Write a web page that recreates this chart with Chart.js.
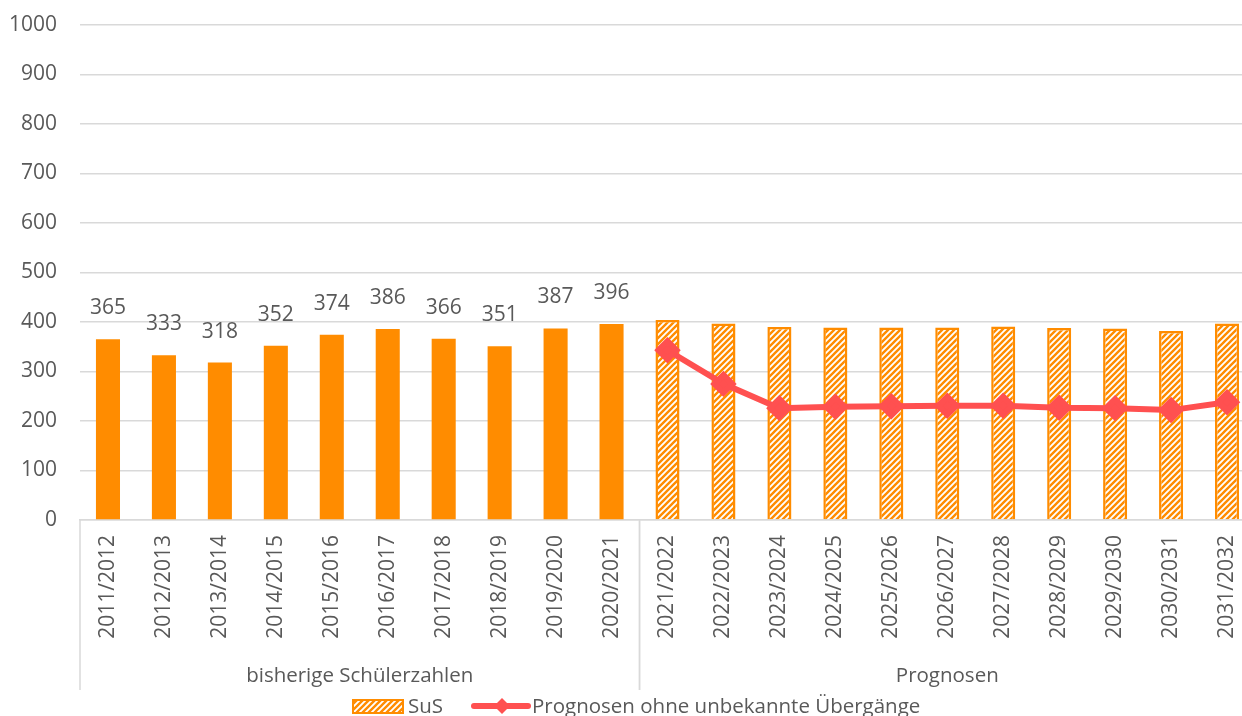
<!DOCTYPE html>
<html>
<head>
<meta charset="utf-8">
<script src="https://cdn.jsdelivr.net/npm/chart.js@4.4.1/dist/chart.umd.min.js"></script>
<style>
  html, body { margin: 0; background: #fff; overflow: hidden; width: 1242px; height: 716px; font-family: "Open Sans", sans-serif; }
  #wrap { position: relative; width: 1242px; height: 716px; overflow: hidden; }
  #chart { position: absolute; left: 0; top: 0; }
  .leg { position: absolute; color: #595959; font-size: 20.5px; line-height: 20px; white-space: nowrap; }
</style>
</head>
<body>
<div id="wrap">
  <canvas id="chart" width="1270" height="716"></canvas>
  <canvas id="swatch" width="52" height="15" style="position:absolute;left:352px;top:699px"></canvas>
  <div class="leg" style="left:408px;top:695px">SuS</div>
  <svg width="62" height="22" style="position:absolute;left:470px;top:695px"><line x1="4" y1="11" x2="58" y2="11" stroke="#FF5050" stroke-width="6" stroke-linecap="round"/><polygon points="32,3 40,11 32,19 24,11" fill="#FF5050"/></svg>
  <div class="leg" style="left:532px;top:695px">Prognosen ohne unbekannte Übergänge</div>
</div>
<script>
const years = [
  "2011/2012", "2012/2013", "2013/2014", "2014/2015", "2015/2016", "2016/2017",
  "2017/2018", "2018/2019", "2019/2020", "2020/2021", "2021/2022", "2022/2023",
  "2023/2024", "2024/2025", "2025/2026", "2026/2027", "2027/2028", "2028/2029",
  "2029/2030", "2030/2031", "2031/2032"
];
const groups = ["bisherige Schülerzahlen", "Prognosen"];
const groupSizes = [10, 11];

const sus = [365, 333, 318, 352, 374, 386, 366, 351, 387, 396,
             404, 397, 390, 389, 389, 389, 391, 388, 387, 382, 397];
const ohneUebergaenge = [null, null, null, null, null, null, null, null, null, null,
             343, 275, 226, 229, 230, 231, 231, 227, 226, 222, 238];

const ORANGE = "#FF8C00";
const RED = "#FF5050";
const TEXT = "#595959";
const GRID = "#d9d9d9";

function hatchTile() {
  const c = document.createElement("canvas");
  c.width = 6; c.height = 6;
  const g = c.getContext("2d");
  g.fillStyle = "#fff";
  g.fillRect(0, 0, 6, 6);
  g.strokeStyle = ORANGE;
  g.lineWidth = 2.4;
  g.beginPath();
  g.moveTo(-1, 7); g.lineTo(7, -1);
  g.moveTo(-4, 4); g.lineTo(4, -4);
  g.moveTo(2, 10); g.lineTo(10, 2);
  g.stroke();
  return c;
}
const hatch = document.getElementById("chart").getContext("2d").createPattern(hatchTile(), "repeat");

// legend swatch
const sw = document.getElementById("swatch").getContext("2d");
sw.fillStyle = sw.createPattern(hatchTile(), "repeat");
sw.fillRect(0, 0, 52, 15);
sw.strokeStyle = ORANGE;
sw.lineWidth = 2;
sw.strokeRect(1, 1, 50, 13);

const histCount = groupSizes[0];

const barLabels = {
  id: "barLabels",
  afterDatasetsDraw(chart) {
    const ctx = chart.ctx;
    const meta = chart.getDatasetMeta(0);
    ctx.save();
    ctx.fillStyle = TEXT;
    ctx.font = "21px 'Open Sans'";
    ctx.textAlign = "center";
    ctx.textBaseline = "middle";
    meta.data.forEach((bar, i) => {
      if (i < histCount) ctx.fillText(sus[i], bar.x, bar.y - 31);
    });
    ctx.restore();
  }
};

const groupAxis = {
  id: "groupAxis",
  afterDraw(chart) {
    const ctx = chart.ctx;
    const x = chart.scales.x;
    const bottom = chart.chartArea.bottom;
    const half = (x.getPixelForValue(1) - x.getPixelForValue(0)) / 2;
    ctx.save();
    ctx.strokeStyle = GRID;
    ctx.lineWidth = 1.5;
    ctx.fillStyle = TEXT;
    ctx.font = "20.5px 'Open Sans'";
    ctx.textAlign = "center";
    ctx.textBaseline = "middle";
    let start = 0;
    groups.forEach((name, g) => {
      const end = start + groupSizes[g] - 1;
      const left = x.getPixelForValue(start) - half;
      const right = x.getPixelForValue(end) + half;
      ctx.beginPath();
      ctx.moveTo(left, bottom); ctx.lineTo(left, 690);
      ctx.moveTo(right, bottom); ctx.lineTo(right, 690);
      ctx.stroke();
      ctx.fillText(name, (left + right) / 2, 676);
      start = end + 1;
    });
    ctx.restore();
  }
};

new Chart(document.getElementById("chart"), {
  data: {
    labels: years,
    datasets: [
      {
        type: "bar",
        label: "SuS",
        data: sus,
        backgroundColor: sus.map((v, i) => i < histCount ? ORANGE : hatch),
        borderColor: ORANGE,
        borderWidth: sus.map((v, i) => i < histCount ? 0 : 2.5),
        barPercentage: 0.43,
        categoryPercentage: 1,
        order: 2
      },
      {
        type: "line",
        label: "Prognosen ohne unbekannte Übergänge",
        data: ohneUebergaenge,
        borderColor: RED,
        backgroundColor: RED,
        borderWidth: 6,
        pointStyle: "rectRot",
        pointRadius: 9,
        pointHoverRadius: 9,
        tension: 0,
        order: 1
      }
    ]
  },
  options: {
    responsive: false,
    animation: false,
    layout: { padding: { top: 25, right: 0, left: 0, bottom: 0 } },
    plugins: { legend: { display: false }, tooltip: { enabled: false } },
    scales: {
      x: {
        afterFit(scale) { scale.height = 196; scale.paddingTop = 0; },
        grid: { display: false, drawTicks: false },
        border: { color: GRID, width: 1.5 },
        ticks: {
          color: TEXT,
          font: { family: "Open Sans", size: 21 },
          maxRotation: 90,
          minRotation: 90,
          padding: 15,
          autoSkip: false
        }
      },
      y: {
        min: 0,
        max: 1000,
        afterFit(scale) { scale.width = 80; scale.paddingTop = 0; scale.paddingBottom = 0; },
        grid: { color: GRID, lineWidth: 1.5, drawTicks: false },
        border: { display: false },
        ticks: {
          stepSize: 100,
          color: TEXT,
          font: { family: "Open Sans", size: 21 },
          padding: 23,
          callback: v => String(v)
        }
      }
    }
  },
  plugins: [barLabels, groupAxis]
});
</script>
</body>
</html>
